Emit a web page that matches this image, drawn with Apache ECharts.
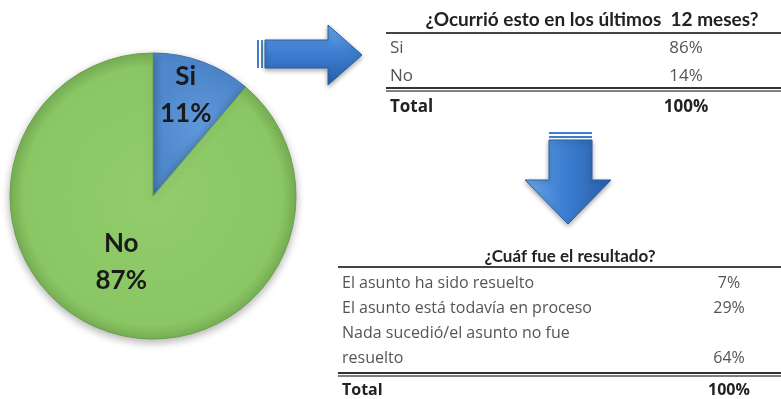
<!DOCTYPE html>
<html>
<head>
<meta charset="utf-8">
<script src="https://cdn.jsdelivr.net/npm/echarts@6/dist/echarts.min.js"></script>
<style>
  html, body { margin: 0; padding: 0; background: #fff; }
  #chart { width: 781px; height: 399px; }
</style>
</head>
<body>
<div id="chart"></div>
<script>
// pie: ¿le pasó?
const pieNames = ['Si', 'No']
const pieValues = [11, 87]

// tabla 1
const t1Title = '¿Ocurrió esto en los últimos  12 meses?'
const t1Labels = ['Si', 'No', 'Total']
const t1Values = ['86%', '14%', '100%']

// tabla 2
const t2Title = '¿Cuáf fue el resultado?'
const t2Labels = ['El asunto ha sido resuelto', 'El asunto está todavía en proceso', 'Nada sucedió/el asunto no fue\nresuelto', 'Total']
const t2Values = ['7%', '29%', '64%', '100%']

const FONT = 'Lato, "Open Sans", sans-serif'
const BODY = '"Open Sans", Lato, sans-serif'
const chart = echarts.init(document.getElementById('chart'))

const txt = (x, y, text, opts = {}) => ({
  type: 'text', x, y,
  style: Object.assign({
    text, fontFamily: BODY, fontSize: 15, fill: '#555',
    textVerticalAlign: 'middle', textAlign: 'left'
  }, opts)
})
const rule = (x1, x2, y, w, c = '#333') => ({
  type: 'line', shape: { x1, y1: y, x2, y2: y },
  style: { stroke: c, lineWidth: w }
})

// tabla generica a partir de los arreglos
const buildTable = (cfg) => {
  const els = []
  els.push(txt(cfg.titleX, cfg.titleY, cfg.title, {
    fontFamily: FONT, fontWeight: 'bold', fill: '#222', textAlign: 'center', fontSize: cfg.titleSize
  }))
  els.push(rule(cfg.left, 781, cfg.topRule, 2, '#444'))
  els.push(rule(cfg.left, 781, cfg.bottomRule, 2))
  els.push(rule(cfg.left, 781, cfg.bottomRule + 3, 1.5, '#555'))
  let r = 0
  cfg.labels.forEach((lab, i) => {
    const isTotal = i === cfg.labels.length - 1
    const st = { fontSize: cfg.size }
    if (isTotal) Object.assign(st, { fontWeight: 'bold', fill: '#222' })
    const lines = lab.split('\n')
    lines.forEach((ln) => {
      els.push(txt(cfg.left + 4, cfg.rows[r], ln, st))
      r++
    })
    els.push(txt(cfg.valueX, cfg.rows[r - 1], cfg.values[i], Object.assign({ textAlign: 'center' }, st)))
  })
  return els
}

const arrowFill = (horizontal) => new echarts.graphic.LinearGradient(
  0, 0, horizontal ? 0 : 1, horizontal ? 1 : 0,
  [{ offset: 0, color: '#6aa6e6' }, { offset: 0.45, color: '#3c7fd2' }, { offset: 1, color: '#2a5fa8' }]
)

const arrows = [
  // flecha derecha
  { type: 'rect', shape: { x: 257, y: 40, width: 2, height: 28 }, style: { fill: '#3c7fd2' } },
  { type: 'rect', shape: { x: 261, y: 40, width: 2, height: 28 }, style: { fill: '#5a86b8' } },
  {
    type: 'polygon',
    shape: { points: [[265, 40], [328, 40], [328, 25], [362, 55], [328, 85], [328, 68], [265, 68]] },
    style: { fill: arrowFill(true), stroke: '#2a5fa8', lineWidth: 1, shadowBlur: 5, shadowColor: 'rgba(0,0,0,0.35)', shadowOffsetY: 2 }
  },
  // flecha abajo
  { type: 'rect', shape: { x: 549, y: 132, width: 43, height: 2 }, style: { fill: '#3c7fd2' } },
  { type: 'rect', shape: { x: 549, y: 136, width: 43, height: 2 }, style: { fill: '#3c7fd2' } },
  {
    type: 'polygon',
    shape: { points: [[549, 140], [592, 140], [592, 180], [611, 180], [568, 224], [525, 180], [549, 180]] },
    style: { fill: arrowFill(false), stroke: '#2a5fa8', lineWidth: 1, shadowBlur: 5, shadowColor: 'rgba(0,0,0,0.35)', shadowOffsetY: 2 }
  }
]

const table1 = buildTable({
  title: t1Title, titleX: 592, titleY: 20, titleSize: 19, left: 386, topRule: 33, bottomRule: 88,
  rows: [48, 76, 107], size: 17, valueX: 686, labels: t1Labels, values: t1Values
})
const table2 = buildTable({
  title: t2Title, titleX: 570, titleY: 257, titleSize: 17, left: 338, topRule: 267, bottomRule: 373,
  rows: [283, 308, 333, 358, 390], size: 16, valueX: 729, labels: t2Labels, values: t2Values
})

const pieColors = [
  new echarts.graphic.RadialGradient(0.5, 0.5, 0.5, [{ offset: 0, color: '#5f98da' }, { offset: 1, color: '#4f88cc' }]),
  new echarts.graphic.RadialGradient(0.5, 0.5, 0.5, [{ offset: 0, color: '#92cc6c' }, { offset: 0.9, color: '#8ac664' }, { offset: 1, color: '#78b055' }])
]
const pieBorders = ['#3f6fae', '#6a9f4c']

chart.setOption({
  animation: false,
  series: [
    {
      type: 'pie',
      center: [153, 196],
      radius: 143,
      startAngle: 90,
      clockwise: true,
      data: pieNames.map((n, i) => ({
        name: n,
        value: pieValues[i],
        itemStyle: { color: pieColors[i], borderColor: pieBorders[i], borderWidth: 1 }
      })),
      itemStyle: { shadowBlur: 8, shadowColor: 'rgba(0,0,0,0.3)', shadowOffsetY: 3 },
      label: {
        position: 'inside',
        formatter: '{b}\n{c}%',
        fontFamily: FONT,
        fontWeight: 'bold',
        fontSize: 26,
        lineHeight: 37,
        color: '#1a1a1a'
      },
      labelLine: { show: false },
      // la etiqueta del sector pequeño va más afuera
      labelLayout: (params) => params.dataIndex === 0 ? { dx: 7, dy: -31 } : { dx: -6, dy: -4 }
    }
  ],
  graphic: { elements: [...arrows, ...table1, ...table2] }
})
</script>
</body>
</html>
